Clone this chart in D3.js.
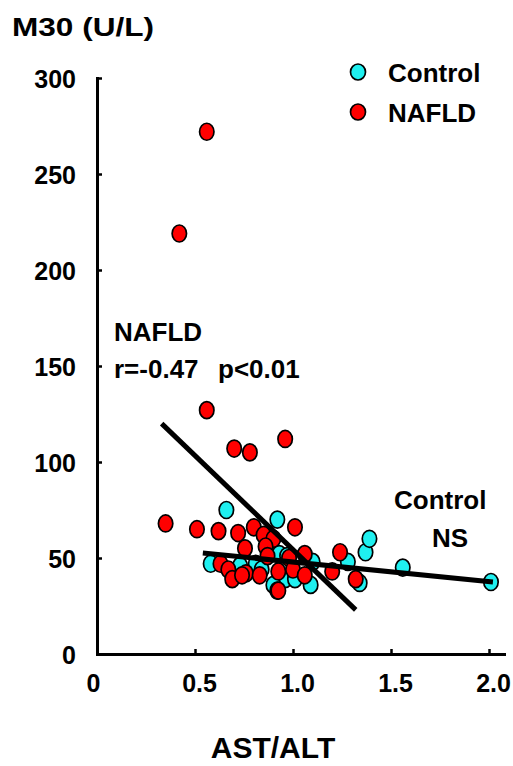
<!DOCTYPE html>
<html>
<head>
<meta charset="utf-8">
<script src="https://cdn.jsdelivr.net/npm/d3@7"></script>
<style>
  html, body { margin: 0; padding: 0; background: #fff; }
  svg { display: block; font-family: "Liberation Sans", Arial, sans-serif; font-weight: bold; }
</style>
</head>
<body>
<svg id="chart" width="513" height="766"></svg>
<script>
// AST/ALT ratio vs serum M30 (U/L), control and NAFLD subjects
const controlX = [0.66, 0.92, 0.58, 0.93, 0.97, 0.96, 1.01, 1.10, 1.09, 0.90, 0.92,
                  0.81, 0.73, 0.84, 1.28, 1.34, 1.37, 1.39, 1.56, 2.01];
const controlY = [75, 70, 47, 52, 51, 39, 39, 48, 36, 36, 33,
                  47, 46, 44, 48, 37, 53, 60, 45, 37.5];

const nafldX = [0.56, 0.42, 0.56, 0.70, 0.78, 0.96, 0.35, 0.51, 0.62, 0.72, 0.80,
                1.01, 0.85, 0.90, 0.755, 0.86, 0.63, 0.67, 0.69, 0.76, 0.83,
                0.87, 0.925, 0.925, 0.98, 1.06, 1.00, 1.06, 1.20, 1.24, 1.32, 0.74];
const nafldY = [272, 219, 127, 107, 105, 112, 68, 65, 64, 63, 66,
                66, 62, 60, 55, 56, 47, 44, 39, 42, 41,
                51, 43, 33, 50, 52, 44, 41, 43, 53, 39, 41];

// Regression line end points [x, y]
const nafldFit = [[0.33, 120], [1.32, 23]];
const controlFit = [[0.54, 52.6], [2.02, 37.5]];

const xTicks = [0, 0.5, 1.0, 1.5, 2.0];
const xTickLabels = ["0", "0.5", "1.0", "1.5", "2.0"];
const yTicks = [0, 50, 100, 150, 200, 250, 300];

const seriesNames = ["Control", "NAFLD"];
const seriesColors = ["#1ff0f0", "#ff0000"];

const svg = d3.select("#chart");

const x = d3.scaleLinear().domain([0, 2.0765]).range([97, 504]);
const y = d3.scaleLinear().domain([0, 300]).range([654, 78]);

function styleAxis(g) {
  g.attr("font-family", null).attr("font-size", null);
  g.selectAll("path.domain").attr("stroke", "#000").attr("stroke-width", 3)
    .attr("stroke-linecap", "square");
  g.selectAll(".tick line").attr("stroke", "#000").attr("stroke-width", 2.5);
  g.selectAll(".tick text").attr("fill", "#000")
    .style("font-size", "25px").style("font-weight", "bold");
}

// y axis with inward ticks
const yAxis = svg.append("g")
  .attr("transform", `translate(${x(0)},0)`)
  .call(d3.axisLeft(y).tickValues(yTicks).tickFormat(d3.format("d"))
    .tickSizeInner(-5).tickSizeOuter(0).tickPadding(21));
styleAxis(yAxis);
yAxis.selectAll(".tick text").attr("dy", "0.36em");

// x axis with inward ticks
const xAxis = svg.append("g")
  .attr("transform", `translate(0,${y(0)})`)
  .call(d3.axisBottom(x).tickValues(xTicks).tickFormat((d, i) => xTickLabels[i])
    .tickSizeInner(-5).tickSizeOuter(0).tickPadding(20));
styleAxis(xAxis);
xAxis.selectAll(".tick text").attr("dx", (d, i) => i === 0 ? -4 : 4).attr("dy", "0.71em");

// Points
const control = controlX.map((v, i) => ({ x: v, y: controlY[i] }));
const nafld = nafldX.map((v, i) => ({ x: v, y: nafldY[i] }));

function drawPoints(data, color) {
  svg.append("g").selectAll("ellipse").data(data).join("ellipse")
    .attr("cx", d => x(d.x)).attr("cy", d => y(d.y))
    .attr("rx", 7.2).attr("ry", 8.5)
    .attr("fill", color).attr("stroke", "#000").attr("stroke-width", 1.7);
}
drawPoints(control, seriesColors[0]);
drawPoints(nafld, seriesColors[1]);

// Regression lines
const line = d3.line().x(d => x(d[0])).y(d => y(d[1]));
svg.append("path").attr("d", line(nafldFit))
  .attr("stroke", "#000").attr("stroke-width", 5).attr("fill", "none");
svg.append("path").attr("d", line(controlFit))
  .attr("stroke", "#000").attr("stroke-width", 5).attr("fill", "none");

// Legend
const legend = svg.append("g");
seriesNames.forEach((name, i) => {
  const ly = 72 + i * 40;
  legend.append("ellipse").attr("cx", 358).attr("cy", ly).attr("rx", 7.5).attr("ry", 8)
    .attr("fill", seriesColors[i]).attr("stroke", "#000").attr("stroke-width", 1.7);
  legend.append("text").attr("x", 388).attr("y", ly + 10)
    .style("font-size", "26px").text(name);
});

// Titles
svg.append("text").attr("x", 12).attr("y", 36)
  .attr("textLength", 142).attr("lengthAdjust", "spacingAndGlyphs")
  .style("font-size", "26px").text("M30 (U/L)");
svg.append("text").attr("x", 273).attr("y", 758).attr("text-anchor", "middle")
  .style("font-size", "30px").text("AST/ALT");

// Annotations
svg.append("text").attr("x", 114).attr("y", 341).style("font-size", "26px").text("NAFLD");
svg.append("text").attr("x", 114).attr("y", 378).style("font-size", "26px").text("r=-0.47");
svg.append("text").attr("x", 218).attr("y", 378).style("font-size", "26px").text("p<0.01");
svg.append("text").attr("x", 394).attr("y", 509).style("font-size", "26px").text("Control");
svg.append("text").attr("x", 432).attr("y", 547).style("font-size", "26px").text("NS");
</script>
</body>
</html>
